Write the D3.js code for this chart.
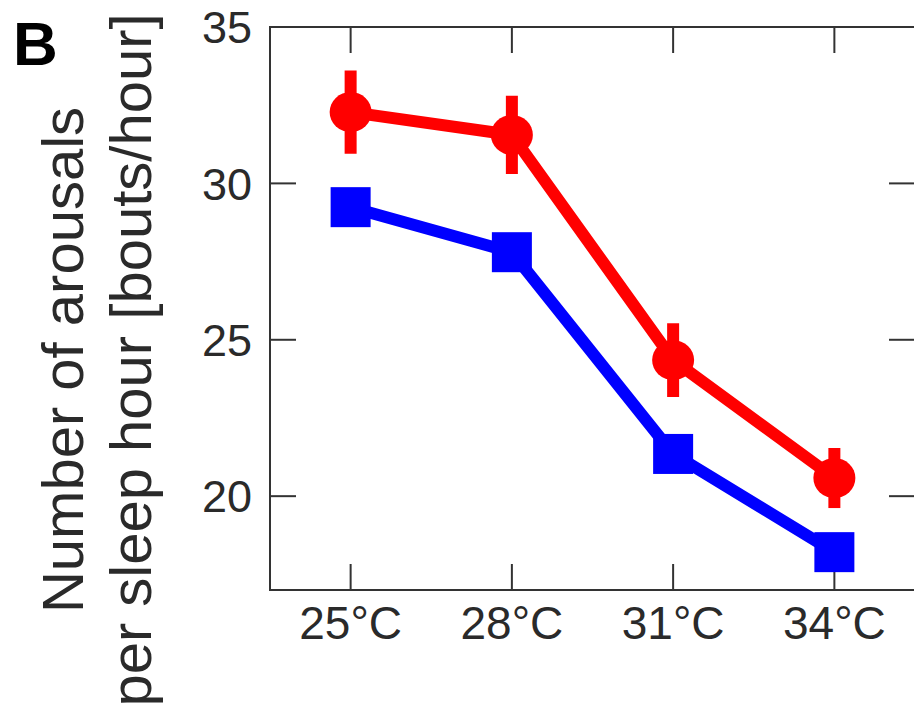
<!DOCTYPE html>
<html>
<head>
<meta charset="utf-8">
<script src="https://cdn.jsdelivr.net/npm/d3@7"></script>
<style>
  body { margin: 0; background: #fff; }
  text { font-family: "Liberation Sans", Arial, sans-serif; }
</style>
</head>
<body>
<div id="main"></div>
<script>
const WIDTH = 914;
const HEIGHT = 716;
const MARGIN = {
  top: 27,
  right: -1,
  bottom: 126,
  left: 270
};
const TICK = 26;

/**
 * Data
 */
const temperatures = ['25°C', '28°C', '31°C', '34°C'];
const redMeans = [32.28, 31.55, 24.35, 20.58];
const redErrors = [1.33, 1.25, 1.18, 0.96];
const blueMeans = [29.24, 27.8, 21.35, 18.21];
const yTicks = [20, 25, 30, 35];
const yDomain = [17, 35];

function toPoints(values, errors) {
  return values.map((v, i) => ({
    cat: temperatures[i],
    value: v,
    err: errors ? errors[i] : 0
  }));
}

/**
 * Node getters
 */
function getSvg() {
  if (d3.select('#main').select('svg').nodes().length) {
    return d3.select('#main').select('svg');
  }

  return d3.select('#main')
    .append('svg')
    .attr('width', WIDTH)
    .attr('height', HEIGHT)
    .attr('viewBox', [0, 0, WIDTH, HEIGHT]);
}

/**
 * Render
 */
function renderFrame(x, y) {
  const svg = getSvg();
  const left = MARGIN.left;
  const right = WIDTH - MARGIN.right;
  const top = MARGIN.top;
  const bottom = HEIGHT - MARGIN.bottom;

  const axisColor = '#333';

  // ticks on every side, pointing inwards
  const g = svg.append('g').attr('stroke', axisColor).attr('stroke-width', 2);

  g.selectAll('.xt-bottom')
    .data(temperatures)
    .join('line')
    .attr('class', 'xt-bottom')
    .attr('x1', d => x(d)).attr('x2', d => x(d))
    .attr('y1', bottom).attr('y2', bottom - TICK);

  g.selectAll('.xt-top')
    .data(temperatures)
    .join('line')
    .attr('class', 'xt-top')
    .attr('x1', d => x(d)).attr('x2', d => x(d))
    .attr('y1', top).attr('y2', top + TICK);

  g.selectAll('.yt-left')
    .data(yTicks)
    .join('line')
    .attr('class', 'yt-left')
    .attr('x1', left).attr('x2', left + TICK)
    .attr('y1', d => y(d)).attr('y2', d => y(d));

  g.selectAll('.yt-right')
    .data(yTicks)
    .join('line')
    .attr('class', 'yt-right')
    .attr('x1', right).attr('x2', right - TICK)
    .attr('y1', d => y(d)).attr('y2', d => y(d));

  svg.append('rect')
    .attr('x', left)
    .attr('y', top)
    .attr('width', right - left)
    .attr('height', bottom - top)
    .attr('fill', 'none')
    .attr('stroke', axisColor)
    .attr('stroke-width', 2);

  // tick labels
  svg.selectAll('.ylab')
    .data(yTicks)
    .join('text')
    .attr('class', 'ylab')
    .attr('x', left - 18)
    .attr('y', d => y(d))
    .attr('dy', '0.36em')
    .attr('text-anchor', 'end')
    .attr('font-size', 45)
    .attr('fill', '#2a2a2a')
    .text(d => d);

  svg.selectAll('.xlab')
    .data(temperatures)
    .join('text')
    .attr('class', 'xlab')
    .attr('x', d => x(d))
    .attr('y', bottom + 49)
    .attr('text-anchor', 'middle')
    .attr('font-size', 46)
    .attr('fill', '#2a2a2a')
    .text(d => d);
}

function renderLabels() {
  const svg = getSvg();

  const title = svg.append('text')
    .attr('transform', 'translate(83, 360) rotate(-90)')
    .attr('text-anchor', 'middle')
    .attr('font-size', 58)
    .attr('fill', '#2a2a2a');
  title.append('tspan').attr('x', 0).attr('y', 0).text('Number of arousals');
  title.append('tspan').attr('x', 0).attr('y', 68).text('per sleep hour [bouts/hour]');

  svg.append('text')
    .attr('x', 13)
    .attr('y', 65)
    .attr('font-size', 62)
    .attr('font-weight', 'bold')
    .attr('fill', '#000')
    .text('B');
}

function renderSeries(points, x, y, color, shape) {
  const svg = getSvg();

  const line = d3.line()
    .x(d => x(d.cat))
    .y(d => y(d.value));

  svg.append('path')
    .datum(points)
    .attr('d', line)
    .attr('fill', 'none')
    .attr('stroke', color)
    .attr('stroke-width', 12)
    .attr('stroke-linejoin', 'round');

  svg.selectAll(null)
    .data(points.filter(d => d.err > 0))
    .join('line')
    .attr('x1', d => x(d.cat)).attr('x2', d => x(d.cat))
    .attr('y1', d => y(d.value + d.err))
    .attr('y2', d => y(d.value - d.err))
    .attr('stroke', color)
    .attr('stroke-width', 12);

  if (shape === 'circle') {
    svg.selectAll(null)
      .data(points)
      .join('ellipse')
      .attr('cx', d => x(d.cat))
      .attr('cy', d => y(d.value))
      .attr('rx', 21)
      .attr('ry', 20)
      .attr('fill', color);
  } else {
    const s = 40;
    svg.selectAll(null)
      .data(points)
      .join('rect')
      .attr('x', d => x(d.cat) - s / 2)
      .attr('y', d => y(d.value) - s / 2)
      .attr('width', s)
      .attr('height', s)
      .attr('fill', color);
  }
}

function renderChart() {
  const x = d3.scalePoint()
    .domain(temperatures)
    .range([MARGIN.left, WIDTH - MARGIN.right])
    .padding(0.5);
  const y = d3.scaleLinear()
    .domain(yDomain)
    .range([HEIGHT - MARGIN.bottom, MARGIN.top]);

  renderFrame(x, y);
  renderLabels();
  renderSeries(toPoints(blueMeans), x, y, '#0000ff', 'square');
  renderSeries(toPoints(redMeans, redErrors), x, y, '#ff0000', 'circle');
}

renderChart();
</script>
</body>
</html>
